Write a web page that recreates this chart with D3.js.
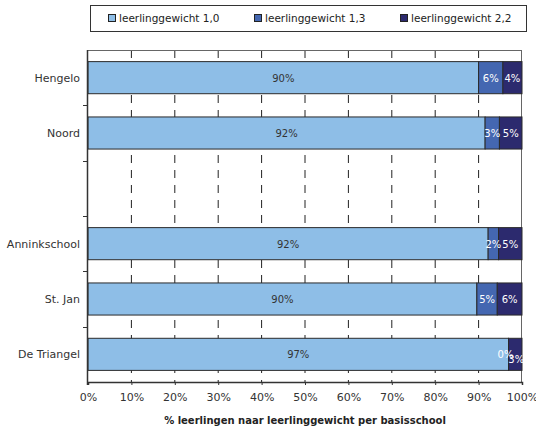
<!DOCTYPE html>
<html><head><meta charset="utf-8">
<script src="https://cdn.jsdelivr.net/npm/d3@7"></script>
<style>body{margin:0;background:#fff}svg{display:block}text{font-family:"DejaVu Sans",Verdana,sans-serif}</style>
</head><body><svg id="c" width="536" height="430"></svg>
<script>
const categories = ["Hengelo", "Noord", "", "Anninkschool", "St. Jan", "De Triangel"];
const seriesNames = ["leerlinggewicht 1,0", "leerlinggewicht 1,3", "leerlinggewicht 2,2"];
const w10 = [90.0, 91.5, null, 92.2, 89.6, 96.9];
const w13 = [5.6, 3.3, null, 2.4, 4.7, 0.0];
const w22 = [4.4, 5.2, null, 5.4, 5.7, 3.1];
const xTicks = [0, 10, 20, 30, 40, 50, 60, 70, 80, 90, 100];
const axisTitle = "% leerlingen naar leerlinggewicht per basisschool";

const colors = ["#8ebee7", "#4467b1", "#2c2a6e"];
const labelColors = ["#333333", "#ffffff", "#ffffff"];
const svg = d3.select("#c");
const m = {l: 88, r: 14, t: 50, b: 48};
const W = 536, H = 430;
const x = d3.scaleLinear().domain([0, 100]).range([m.l, W - m.r]);
const y = d3.scaleBand().domain(categories.map((c, i) => i)).range([m.t, H - m.b]).paddingInner(0.42).paddingOuter(0.21);
const yb = d3.scaleBand().domain(categories.map((c, i) => i)).range([m.t, H - m.b]);

// gridlines
svg.append("g").selectAll("line").data(xTicks.slice(1, -1)).join("line")
  .attr("x1", d => x(d)).attr("x2", d => x(d)).attr("y1", m.t).attr("y2", H - m.b)
  .attr("stroke", "#222").attr("stroke-width", 1).attr("stroke-dasharray", "8,7");
// top & right border
svg.append("line").attr("x1", m.l).attr("x2", W - m.r).attr("y1", m.t + 0.5).attr("y2", m.t + 0.5).attr("stroke", "#666");
svg.append("line").attr("x1", W - m.r - 0.5).attr("x2", W - m.r - 0.5).attr("y1", m.t).attr("y2", H - m.b).attr("stroke", "#666");

const rows = categories.map((c, i) => ({i, vals: [w10[i], w13[i], w22[i]]})).filter(r => r.vals[0] != null);
const segs = [];
rows.forEach(r => { let acc = 0; r.vals.forEach((v, s) => { segs.push({i: r.i, s, v, x0: acc, x1: acc + v}); acc += v; }); });

svg.append("g").selectAll("rect").data(segs).join("rect")
  .attr("x", d => x(d.x0)).attr("width", d => x(d.x1) - x(d.x0))
  .attr("y", d => y(d.i)).attr("height", y.bandwidth())
  .attr("fill", d => colors[d.s]).attr("stroke", "#2a2a2a").attr("stroke-width", 1);

// labels
const lab = svg.append("g");
rows.forEach(r => {
  let prevRight = -Infinity;
  segs.filter(s => s.i === r.i).forEach(d => {
    const cx = (x(d.x0) + x(d.x1)) / 2;
    const t = Math.round(d.v) + "%";
    const tw = t.length * 6.2;
    let dy = 0, px = cx;
    if (d.v < 1) px = cx - 3;
    if (px - tw / 2 < prevRight) { dy = 5; px += 1; }
    lab.append("text").attr("x", px).attr("y", y(r.i) + y.bandwidth() / 2 + 4 + dy)
      .attr("text-anchor", "middle").attr("font-size", 10).attr("fill", labelColors[d.s]).text(t);
    prevRight = px + tw / 2;
  });
});

// left axis
const ga = svg.append("g");
ga.append("line").attr("x1", m.l - 0.5).attr("x2", m.l - 0.5).attr("y1", m.t).attr("y2", H - m.b + 3).attr("stroke", "#333").attr("stroke-width", 1.5);
ga.selectAll("line.t").data(d3.range(1, categories.length)).join("line").attr("class", "t")
  .attr("x1", m.l - 5).attr("x2", m.l).attr("y1", d => Math.round(yb(d)) + 0.5).attr("y2", d => Math.round(yb(d)) + 0.5).attr("stroke", "#333");
ga.selectAll("text").data(categories.map((c, i) => ({c, i})).filter(d => d.c)).join("text")
  .attr("x", m.l - 8).attr("y", d => yb(d.i) + yb.bandwidth() / 2 + 4)
  .attr("text-anchor", "end").attr("font-size", 11).attr("fill", "#333").text(d => d.c);

// bottom axis
const gb = svg.append("g").attr("transform", `translate(0,${H - m.b})`)
  .call(d3.axisBottom(x).tickValues(xTicks).tickFormat(d => d + "%").tickSize(3).tickPadding(8));
gb.select(".domain").attr("stroke", "#333").attr("stroke-width", 1.5);
gb.selectAll("line").attr("stroke", "#333");
gb.selectAll("text").attr("font-size", 11).attr("fill", "#333").attr("font-family", "DejaVu Sans, Verdana, sans-serif");

svg.append("text").attr("x", (m.l + W - m.r) / 2).attr("y", 424).attr("text-anchor", "middle")
  .attr("font-size", 10).attr("font-weight", "bold").attr("fill", "#222").text(axisTitle);

// legend
const lg = svg.append("g");
lg.append("rect").attr("x", 90.5).attr("y", 5.5).attr("width", 436).attr("height", 26).attr("fill", "#fff").attr("stroke", "#333");
const lx = [108, 254, 400];
seriesNames.forEach((n, i) => {
  lg.append("rect").attr("x", lx[i] + 0.5).attr("y", 14.5).attr("width", 7).attr("height", 7).attr("fill", colors[i]).attr("stroke", "#222");
  lg.append("text").attr("x", lx[i] + 11).attr("y", 22).attr("font-size", 10.5).attr("fill", "#222").text(n);
});
</script></body></html>
